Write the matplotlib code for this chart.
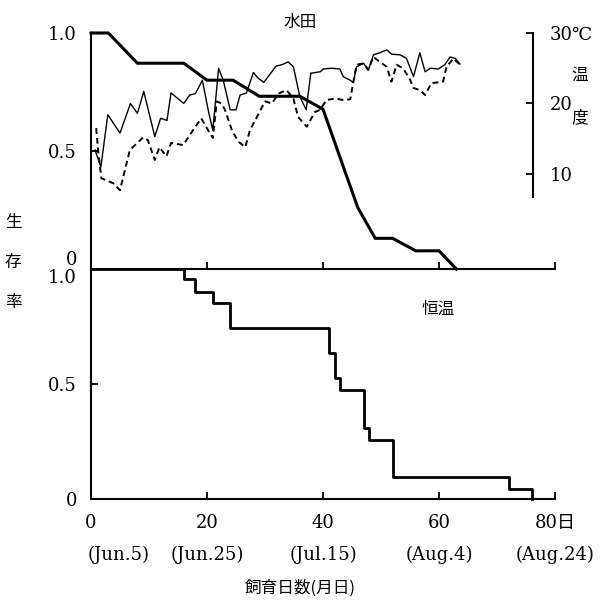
import matplotlib
matplotlib.use("Agg")
import matplotlib.pyplot as plt

# --- data ---
# paddy field (水田): survival rate
paddy_day = [0, 3, 8, 16, 20, 24.5, 29, 36, 40, 46, 49, 52, 56, 60, 63]
paddy_surv = [1.0, 1.0, 0.872, 0.872, 0.80, 0.80, 0.732, 0.732, 0.677,
              0.26, 0.13, 0.13, 0.077, 0.077, 0.0]

# water temperature, thin solid line (deg C)
temp_a_day = [0.7, 1.7, 2.9, 5.0, 6.8, 8.0, 9.1, 11.0, 12.0, 13.1, 13.8, 16.0,
              17.0, 18.0, 19.2, 20.2, 21.0, 22.0, 22.8, 24.0, 25.0, 25.7, 26.8,
              28.0, 28.8, 29.8, 31.9, 32.9, 34.0, 34.9, 36.0, 37.1, 37.9, 39.5,
              40.1, 41.5, 42.9, 43.5, 44.7, 45.2, 45.8, 47.0, 47.8, 48.7, 49.8,
              51.0, 51.8, 53.3, 54.4, 55.6, 56.7, 57.6, 58.5, 59.9, 61.0, 61.9,
              62.8, 63.6]
temp_a = [13.4, 11.0, 18.4, 15.8, 20.0, 18.6, 21.7, 15.3, 17.9, 17.6, 21.5, 20.0,
          21.2, 21.4, 23.3, 19.1, 16.2, 25.0, 23.3, 19.1, 19.1, 21.2, 21.5,
          24.4, 23.6, 23.0, 25.3, 25.5, 25.9, 25.2, 21.0, 19.1, 24.3, 24.5,
          24.9, 25.0, 24.9, 23.8, 23.3, 23.0, 25.2, 25.7, 24.7, 26.9, 27.2,
          27.6, 27.0, 26.9, 26.4, 23.8, 27.2, 24.5, 25.0, 24.9, 25.5, 26.6,
          26.4, 25.6]

# water temperature, dashed line (deg C)
temp_b_day = [0.9, 1.3, 1.8, 3.8, 5.0, 6.7, 9.0, 9.8, 11.0, 11.8, 13.0, 13.8,
              15.9, 17.0, 19.0, 20.2, 21.0, 21.7, 22.5, 23.1, 24.3, 25.4, 26.6,
              27.4, 28.8, 30.0, 31.2, 32.3, 33.7, 34.9, 35.7, 37.2, 38.6, 39.5,
              40.6, 42.1, 43.5, 44.7, 45.2, 45.8, 47.0, 47.8, 48.7, 49.8, 51.0,
              51.8, 52.7, 53.8, 55.0, 55.6, 56.7, 57.6, 58.7, 59.9, 60.7, 61.3,
              62.5, 63.6]
temp_b = [16.5, 12.7, 9.4, 8.7, 7.7, 13.4, 15.2, 14.8, 12.0, 13.8, 12.5, 14.4,
          14.1, 15.5, 17.9, 16.2, 15.1, 20.3, 20.0, 19.1, 16.2, 14.6, 13.8,
          16.2, 18.4, 20.3, 20.0, 21.4, 21.9, 20.7, 18.1, 16.7, 18.8, 19.1,
          20.5, 20.7, 20.5, 20.6, 22.9, 25.5, 25.7, 24.8, 26.6, 25.9, 25.2,
          23.1, 25.5, 25.0, 23.4, 22.2, 21.9, 21.2, 22.9, 23.0, 23.1, 25.2,
          26.4, 25.5]

# constant temperature (恒温): survival rate, step curve
const_day = [0, 16, 18, 21, 24, 41, 42, 43, 47, 48, 52, 72, 76]
const_surv = [1.0, 0.956, 0.90, 0.85, 0.742, 0.633, 0.528, 0.472, 0.31,
              0.258, 0.096, 0.044, 0.0]

x_ticks = [0, 20, 40, 60, 80]
x_labels = ["0", "20", "40", "60", "80日"]
date_labels = ["(Jun.5)", "(Jun.25)", "(Jul.15)", "(Aug.4)", "(Aug.24)"]

SERIF = ["DejaVu Serif", "Noto Sans CJK JP"]
CJK = ["Noto Sans CJK JP", "DejaVu Sans"]

W, H = 606, 600
fig = plt.figure(figsize=(6.06, 6.0), dpi=100)
left = 91 / W
width = 464 / W
ax1 = fig.add_axes([left, 1 - 269 / H, width, 236 / H])
ax2 = fig.add_axes([left, 1 - 499 / H, width, 230 / H])

for ax in (ax1, ax2):
    ax.set_xlim(0, 80)
    ax.set_ylim(0, 1.0)
    ax.spines["top"].set_visible(False)
    ax.spines["right"].set_visible(False)
    ax.spines["left"].set_linewidth(1.5)
    ax.spines["bottom"].set_linewidth(1.5)
    ax.set_xticks(x_ticks)
    ax.set_yticks([0, 0.5, 1.0])
    ax.tick_params(direction="in", length=5, width=1.3)
    ax.set_facecolor("none")

ax1.set_xticklabels([])
ax2.set_xticklabels([])

ax1.set_yticklabels(["0", "0.5", "1.0"], fontfamily=SERIF, fontsize=13)
ax2.set_yticklabels(["0", "0.5", "1.0"], fontfamily=SERIF, fontsize=13)
ax1.tick_params(axis="y", pad=10)
ax2.tick_params(axis="y", pad=10)
ax1.get_yticklabels()[0].set_va("bottom")
ax2.get_yticklabels()[2].set_va("top")

# --- paddy field panel ---
ax1.plot(paddy_day, paddy_surv, color="black", lw=2.2, clip_on=False,
         solid_joinstyle="miter", zorder=3)

tw = ax1.twinx()
tw.set_xlim(0, 80)
tw.set_ylim(30 - 236 / 7.05, 30)
tw.plot(temp_a_day, temp_a, color="black", lw=1.0)
tw.plot(temp_b_day, temp_b, color="black", lw=1.4, linestyle=(0, (3, 2)))
for s in ("top", "left", "bottom"):
    tw.spines[s].set_visible(False)
tw.spines["right"].set_position(("data", 76.2))
tw.spines["right"].set_bounds(6.7, 30)
tw.spines["right"].set_linewidth(1.5)
tw.set_yticks([10, 20, 30])
tw.set_yticklabels(["10", "20", "30℃"], fontfamily=SERIF, fontsize=13)
tw.tick_params(axis="y", direction="in", length=5, width=1.3, pad=12)

# --- constant temperature panel ---
ax2.plot(const_day, const_surv, color="black", lw=2.0, drawstyle="steps-post",
         clip_on=False, zorder=3)

# x tick labels with dates
xt = ax2.get_xaxis_transform()
for d, lab, dt in zip(x_ticks, x_labels, date_labels):
    ax2.text(d, -24 / 230, lab, transform=xt, ha="center", va="center",
             fontsize=13, family=SERIF)
    if d == 0:
        ax2.text(-0.5, -56 / 230, dt, transform=xt, ha="left", va="center",
                 fontsize=13, family=SERIF)
    else:
        ax2.text(d, -56 / 230, dt, transform=xt, ha="center", va="center",
                 fontsize=13, family=SERIF)

# --- titles and axis captions ---
def ftext(px, py, s, **kw):
    fig.text(px / W, 1 - py / H, s, ha="center", va="center", **kw)

ftext(300, 22, "水田", fontsize=12, family=CJK)
ftext(438, 309, "恒温", fontsize=12, family=CJK)
ftext(13, 223, "生", fontsize=12, family=CJK)
ftext(13, 263, "存", fontsize=12, family=CJK)
ftext(13, 303, "率", fontsize=12, family=CJK)
ftext(580, 75, "温", fontsize=12, family=CJK)
ftext(580, 118, "度", fontsize=12, family=CJK)
ftext(300, 588, "飼育日数(月日)", fontsize=12, family=CJK)

fig.savefig("out.png", dpi=100, facecolor="white")
